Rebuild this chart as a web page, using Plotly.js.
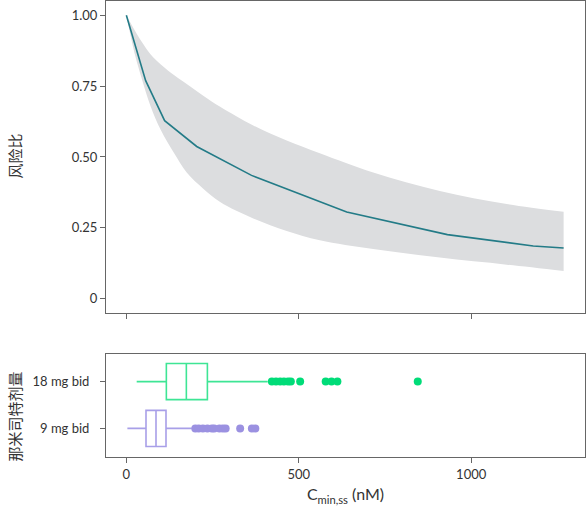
<!DOCTYPE html>
<html>
<head>
<meta charset="utf-8">
<script src="https://cdn.plot.ly/plotly-3.0.1.min.js"></script>
<style>
  html, body { margin: 0; padding: 0; background: #fff; }
  #chart { width: 587px; height: 510px; }
</style>
</head>
<body>
<div id="chart"></div>
<script>
// hazard ratio vs Cmin,ss (top panel)
var concLine = [0, 56, 111, 204, 363, 639, 931, 1180, 1268];
var hrLine = [1.0, 0.769, 0.628, 0.537, 0.435, 0.306, 0.226, 0.186, 0.179];

// 95% band
var concBand = [0, 25, 45, 70, 100, 140, 175, 223, 272, 368, 465, 561, 716, 909, 1103, 1268];
var hrUpper = [1.0, 0.945, 0.905, 0.862, 0.826, 0.787, 0.757, 0.716, 0.677, 0.611, 0.558, 0.513, 0.445, 0.38, 0.334, 0.307];
var hrLower = [1.0, 0.86, 0.775, 0.68, 0.595, 0.51, 0.445, 0.388, 0.341, 0.283, 0.239, 0.206, 0.175, 0.145, 0.12, 0.098];

// exposure by dose (bottom panel)
var doses = ["9 mg bid", "18 mg bid"];
var lowFence = [3, 30];
var q1 = [57, 116];
var med = [86, 174];
var q3 = [115, 235];
var upFence = [190, 410];
var outliers9 = [200, 210, 222, 235, 248, 255, 270, 280, 288, 330, 364, 374];
var outliers18 = [422, 434, 446, 457, 469, 477, 504, 578, 595, 612, 845];

var doseColors = ["#9b91e1", "#00dc78"];
var doseLines = ["#a89fe8", "#3ee595"];

var traces = [
  {
    x: concBand, y: hrLower, type: "scatter", mode: "lines",
    line: {width: 0, shape: "spline", smoothing: 1}, hoverinfo: "skip", showlegend: false,
    xaxis: "x", yaxis: "y"
  },
  {
    x: concBand, y: hrUpper, type: "scatter", mode: "lines",
    line: {width: 0, shape: "spline", smoothing: 1}, fill: "tonexty", fillcolor: "#dcdddf",
    hoverinfo: "skip", showlegend: false, xaxis: "x", yaxis: "y"
  },
  {
    x: concLine, y: hrLine, type: "scatter", mode: "lines",
    line: {color: "#237b87", width: 1.6}, showlegend: false,
    xaxis: "x", yaxis: "y"
  }
];

for (var i = 0; i < doses.length; i++) {
  traces.push({
    type: "box", orientation: "h",
    y: [doses[i]], q1: [q1[i]], median: [med[i]], q3: [q3[i]],
    lowerfence: [lowFence[i]], upperfence: [upFence[i]],
    width: 0.77, whiskerwidth: 0, boxpoints: false,
    line: {color: doseLines[i], width: 1.6}, fillcolor: "rgba(255,255,255,0)",
    showlegend: false, xaxis: "x2", yaxis: "y2"
  });
}

var outs = [outliers9, outliers18];
for (var j = 0; j < doses.length; j++) {
  traces.push({
    type: "scatter", mode: "markers",
    x: outs[j], y: outs[j].map(function () { return doses[j]; }),
    marker: {color: doseColors[j], size: 8},
    showlegend: false, xaxis: "x2", yaxis: "y2"
  });
}

var tickFont = {family: "Lato, 'Noto Sans', sans-serif", size: 13, color: "#333"};
var axisLine = "#666";

var layout = {
  width: 587, height: 510,
  margin: {l: 106, r: 2, t: 1, b: 53},
  paper_bgcolor: "#fff", plot_bgcolor: "#fff",
  font: tickFont,
  boxmode: "overlay",
  xaxis: {
    domain: [0, 1], anchor: "y", range: [-59, 1330],
    tickvals: [0, 500, 1000], showticklabels: false,
    ticks: "outside", ticklen: 5, tickcolor: axisLine,
    showline: true, linecolor: axisLine, linewidth: 1, mirror: true,
    showgrid: false, zeroline: false
  },
  yaxis: {
    domain: [0.316, 1], anchor: "x", range: [-0.05, 1.05],
    tickvals: [0, 0.25, 0.5, 0.75, 1], ticktext: ["0", "0.25", "0.50", "0.75", "1.00"],
    ticks: "outside", ticklen: 5, tickcolor: axisLine,
    showline: true, linecolor: axisLine, linewidth: 1, mirror: true,
    showgrid: false, zeroline: false
  },
  xaxis2: {
    domain: [0, 1], anchor: "y2", range: [-59, 1330],
    tickvals: [0, 500, 1000], ticktext: ["0", "500", "1000"],
    ticks: "outside", ticklen: 5, tickcolor: axisLine,
    showline: true, linecolor: axisLine, linewidth: 1, mirror: true,
    showgrid: false, zeroline: false,
    title: {text: "C<sub>min,ss</sub> (nM)", font: {family: "Lato, 'Noto Sans', sans-serif", size: 16, color: "#333"}, standoff: 8}
  },
  yaxis2: {
    domain: [0, 0.226], anchor: "x2", range: [-0.61, 1.59],
    type: "category", categoryorder: "array", categoryarray: doses,
    ticks: "outside", ticklen: 5, tickcolor: axisLine, ticklabelstandoff: 8,
    showline: true, linecolor: axisLine, linewidth: 1, mirror: true,
    showgrid: false, zeroline: false
  },
  annotations: [
    {
      text: "风险比", textangle: -90, xref: "paper", yref: "paper",
      x: -0.192, y: 0.659, xanchor: "center", yanchor: "middle", showarrow: false,
      font: {family: "'Noto Sans CJK SC', sans-serif", size: 15, color: "#333"}
    },
    {
      text: "那米司特剂量", textangle: -90, xref: "paper", yref: "paper",
      x: -0.192, y: 0.089, xanchor: "center", yanchor: "middle", showarrow: false,
      font: {family: "'Noto Sans CJK SC', sans-serif", size: 15, color: "#333"}
    }
  ]
};

Plotly.newPlot("chart", traces, layout, {displayModeBar: false, staticPlot: true});
</script>
</body>
</html>
